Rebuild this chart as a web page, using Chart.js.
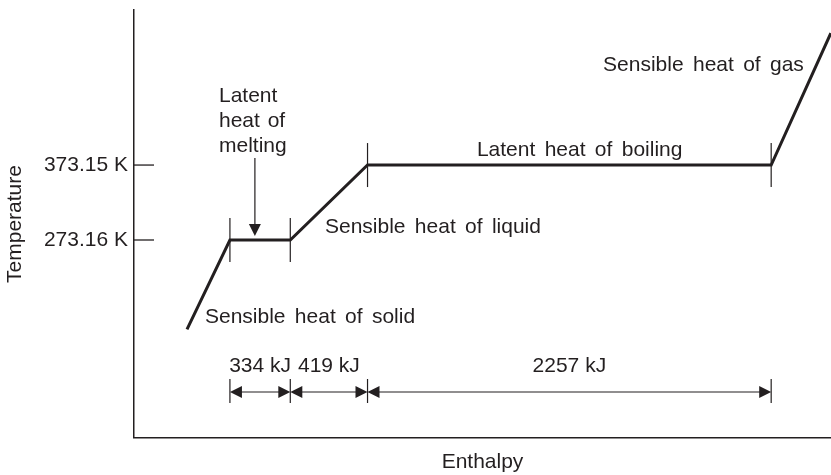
<!DOCTYPE html>
<html>
<head>
<meta charset="utf-8">
<script src="https://cdn.jsdelivr.net/npm/chart.js@4.4.1/dist/chart.umd.min.js"></script>
<style>
  html, body { margin: 0; padding: 0; background: #ffffff; }
  #wrap { width: 831px; height: 475px; position: relative; }
</style>
</head>
<body>
<div id="wrap"><canvas id="chart" width="831" height="475"></canvas></div>
<script>
// ---------- data ----------
// heating curve: enthalpy (kJ, schematic axis units) vs temperature (K)
const enthalpy    = [295, 534, 870, 1300, 3547, 3879];
const temperature = [154, 273.16, 273.16, 373.15, 373.15, 549];
// y-axis ticks
const tickValues = [273.16, 373.15];
const tickLabels = ['273.16 K', '373.15 K'];
// latent / sensible heat intervals shown by dimension arrows
const intervalLabels = ['334 kJ', '419 kJ', '2257 kJ'];
// region captions
const regionLabels = ['Sensible heat of solid', 'Sensible heat of liquid', 'Latent heat of boiling', 'Sensible heat of gas'];
const meltingLabel = ['Latent', 'heat of', 'melting'];
const xTitle = 'Enthalpy';
const yTitle = 'Temperature';

// ---------- placement of annotations (in axis units) & styles ----------
const X_RANGE = [0, 3880];
const Y_RANGE = [9, 580];
const regionPlace = [
  { x: 395,  y: 162.4, align: 'left'  },
  { x: 1063, y: 282.5, align: 'left'  },
  { x: 1909, y: 385.2, align: 'left'  },
  { x: 3729, y: 498.6, align: 'right' }
];
const meltingPlace = { x: 473, y: 457.3, lineGap: 25 };
const meltArrow = { x: 673, from: 382.6, to: 278.5 };
const dimLineY = 70.4;
const dimLabelY = 97;
const INK = '#231f20';
const FONT_FAMILY = '"Liberation Sans", Arial, Helvetica, sans-serif';
const FONT_SIZE = 21;

const annotations = {
  id: 'heatAnnotations',
  afterDatasetsDraw(chart) {
    const { ctx, chartArea, scales: { x, y } } = chart;
    const X = v => x.getPixelForValue(v);
    const Y = v => y.getPixelForValue(v);
    const line = (x1, y1, x2, y2) => { ctx.beginPath(); ctx.moveTo(x1, y1); ctx.lineTo(x2, y2); ctx.stroke(); };
    const tri = (ax, ay, bx, by, cx, cy) => { ctx.beginPath(); ctx.moveTo(ax, ay); ctx.lineTo(bx, by); ctx.lineTo(cx, cy); ctx.closePath(); ctx.fill(); };
    ctx.save();
    ctx.strokeStyle = INK;
    ctx.fillStyle = INK;
    ctx.lineCap = 'butt';

    // inward y-axis tick marks
    ctx.lineWidth = 1.3;
    tickValues.forEach(v => {
      const py = Y(v);
      line(chartArea.left, py, chartArea.left + 20, py);
    });

    // phase-change boundary markers on the curve
    ctx.lineWidth = 1.2;
    for (let i = 1; i <= 4; i++) {
      const px = X(enthalpy[i]), py = Y(temperature[i]);
      line(px, py - 22, px, py + 22);
    }

    // dimension arrows between boundaries
    const dy = Y(dimLineY);
    const bounds = enthalpy.slice(1, 5).map(X);
    ctx.lineWidth = 1.2;
    bounds.forEach(bx => line(bx, dy - 13, bx, dy + 11));
    ctx.lineWidth = 1.1;
    for (let i = 0; i < 3; i++) {
      const a = bounds[i], b = bounds[i + 1];
      line(a + 6, dy, b - 6, dy);
      tri(a, dy, a + 12, dy - 6, a + 12, dy + 6);
      tri(b, dy, b - 12, dy - 6, b - 12, dy + 6);
    }

    // melting arrow
    const mx = X(meltArrow.x), my0 = Y(meltArrow.from), my1 = Y(meltArrow.to);
    ctx.lineWidth = 1.2;
    line(mx, my0, mx, my1 - 8);
    tri(mx, my1, mx - 6, my1 - 12, mx + 6, my1 - 12);

    // text
    ctx.font = FONT_SIZE + 'px ' + FONT_FAMILY;
    ctx.textBaseline = 'alphabetic';
    const setSpacing = s => { try { ctx.wordSpacing = s; } catch (e) {} };
    setSpacing('3.5px');
    regionLabels.forEach((t, i) => {
      const p = regionPlace[i];
      ctx.textAlign = p.align;
      ctx.fillText(t, X(p.x), Y(p.y));
    });
    ctx.textAlign = 'left';
    setSpacing('2px');
    meltingLabel.forEach((t, i) => {
      ctx.fillText(t, X(meltingPlace.x), Y(meltingPlace.y) + i * meltingPlace.lineGap);
    });
    setSpacing('0px');
    ctx.textAlign = 'center';
    const ly = Y(dimLabelY);
    for (let i = 0; i < 3; i++) {
      ctx.fillText(intervalLabels[i], (bounds[i] + bounds[i + 1]) / 2, ly);
    }
    ctx.restore();
  }
};

const font = { family: FONT_FAMILY, size: FONT_SIZE };

new Chart(document.getElementById('chart'), {
  type: 'scatter',
  data: {
    datasets: [{
      data: enthalpy.map((h, i) => ({ x: h, y: temperature[i] })),
      showLine: true,
      borderColor: INK,
      borderWidth: 3,
      borderJoinStyle: 'miter',
      pointRadius: 0,
      pointHoverRadius: 0,
      tension: 0,
      fill: false
    }]
  },
  options: {
    responsive: false,
    animation: false,
    events: [],
    layout: { padding: { top: 10, right: 0, bottom: 0, left: 0 } },
    plugins: { legend: { display: false }, tooltip: { enabled: false } },
    scales: {
      x: {
        type: 'linear',
        min: X_RANGE[0], max: X_RANGE[1],
        grid: { display: true, drawOnChartArea: false, drawTicks: false, lineWidth: 0 },
        border: { display: true, color: INK, width: 1.5 },
        ticks: { display: false },
        title: { display: true, text: xTitle, color: INK, font, padding: { top: 0, bottom: 0 } },
        afterFit(scale) { scale.height = 37; scale.paddingLeft = 0; scale.paddingRight = 0; }
      },
      y: {
        type: 'linear',
        min: Y_RANGE[0], max: Y_RANGE[1],
        grid: { display: true, drawOnChartArea: false, drawTicks: false, lineWidth: 0 },
        border: { display: true, color: INK, width: 1.5 },
        afterBuildTicks(scale) { scale.ticks = tickValues.map(v => ({ value: v })); },
        ticks: {
          color: INK, font, padding: 6,
          callback(value) { const k = tickValues.indexOf(value); return k >= 0 ? tickLabels[k] : ''; }
        },
        title: { display: true, text: yTitle, color: INK, font, padding: { top: 3, bottom: 0 } },
        afterFit(scale) { scale.width = 134; scale.paddingTop = 0; scale.paddingBottom = 0; }
      }
    }
  },
  plugins: [annotations]
});
</script>
</body>
</html>
